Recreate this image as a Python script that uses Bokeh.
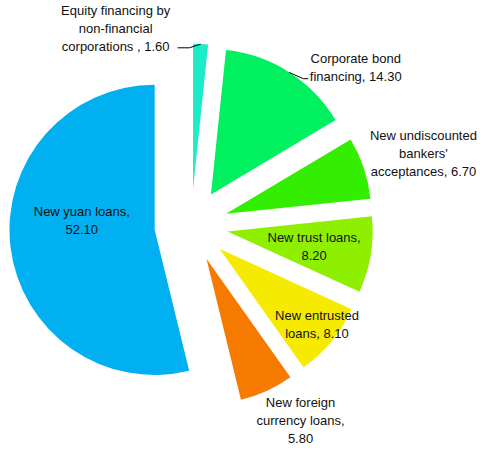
import numpy as np
from bokeh.plotting import figure
from bokeh.models import ColumnDataSource, Range1d
from bokeh.core.properties import value
from bokeh.embed import file_html
from bokeh.resources import INLINE

# ---- data ----
categories = ["New yuan loans", "New foreign currency loans", "New entrusted loans",
              "New trust loans", "New undiscounted bankers' acceptances",
              "Corporate bond financing", "Equity financing by non-financial corporations"]
values = [52.10, 5.80, 8.10, 8.20, 6.70, 14.30, 1.60]
colors = ["#00B0F0", "#F77A00", "#F5EA00", "#8EF000", "#33EE00", "#00F060", "#1EEBC8"]
label_texts = ["New yuan loans,\n52.10", "New foreign\ncurrency loans,\n5.80",
               "New entrusted\nloans, 8.10", "New trust loans,\n8.20",
               "New undiscounted\nbankers'\nacceptances, 6.70",
               "Corporate bond\nfinancing, 14.30",
               "Equity financing by\nnon-financial\ncorporations , 1.60"]

# ---- layout constants ----
CX, CY = 197.0, -233.0
R = 150.0
EXPLODE = 38.0
label_pos = [(84, -228), (310, -435), (327, -336), (324, -255),
             (437, -158), (367, -69), (119, -29)]

vals = np.array(values)
frac = vals / vals.sum()
ends = np.pi / 2 + np.cumsum(frac) * 2 * np.pi
starts = ends - frac * 2 * np.pi
mids = (starts + ends) / 2
xs = CX + EXPLODE * np.cos(mids)
ys = CY + EXPLODE * np.sin(mids)

src = ColumnDataSource(dict(x=xs, y=ys, start=starts, end=ends, color=colors, cat=categories))

p = figure(width=482, height=447, output_backend="svg", toolbar_location=None,
           x_range=Range1d(0, 498), y_range=Range1d(-463, 0), min_border=0)
p.axis.visible = False
p.grid.visible = False
p.outline_line_color = None
p.background_fill_color = "white"

p.wedge(x="x", y="y", radius=R, start_angle="start", end_angle="end",
        fill_color="color", line_color=None, source=src)

# leader lines for outside labels (from outer arc midpoint)
def arc_mid(i):
    return xs[i] + R * np.cos(mids[i]), ys[i] + R * np.sin(mids[i])

ex, ey = arc_mid(6)
p.line([ex, 195, 183], [ey, -49, -49], line_color="black", line_width=1)
bx, by = arc_mid(5)
p.line([bx, 313, 318], [by, -81, -81], line_color="black", line_width=1)

lsrc = ColumnDataSource(dict(x=[q[0] for q in label_pos], y=[q[1] for q in label_pos],
                             text=label_texts))
p.text(x="x", y="y", text="text", source=lsrc, text_align="center",
       text_baseline="middle", text_font=value("Liberation Sans"),
       text_font_size="13px", text_color="#111111", text_line_height=1.2)

open("out.html", "w").write(file_html(p, INLINE))
